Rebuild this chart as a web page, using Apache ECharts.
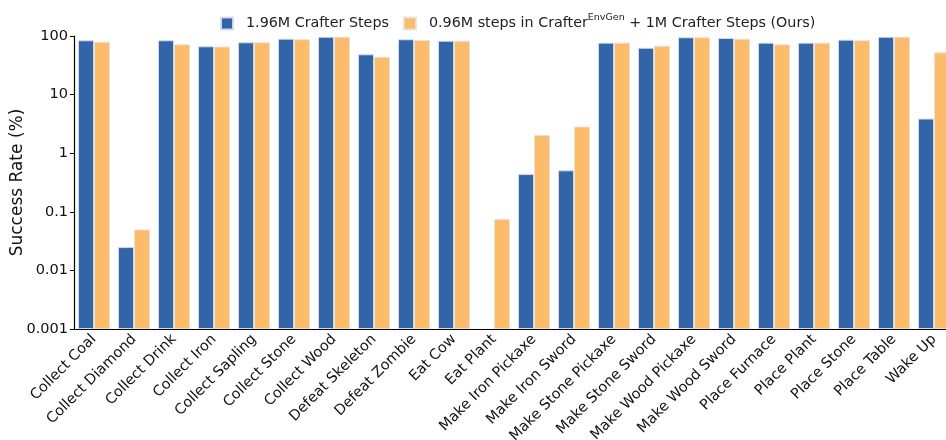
<!DOCTYPE html>
<html><head><meta charset="utf-8">
<script src="https://cdn.jsdelivr.net/npm/echarts@6/dist/echarts.min.js"></script>
<style>html,body{margin:0;padding:0;background:#fff}#c{width:946px;height:440px}</style>
</head><body><div id="c"></div>
<script>
const categories = ["Collect Coal","Collect Diamond","Collect Drink","Collect Iron","Collect Sapling","Collect Stone","Collect Wood","Defeat Skeleton","Defeat Zombie","Eat Cow","Eat Plant","Make Iron Pickaxe","Make Iron Sword","Make Stone Pickaxe","Make Stone Sword","Make Wood Pickaxe","Make Wood Sword","Place Furnace","Place Plant","Place Stone","Place Table","Wake Up"];
const baseline = [84.5,0.025,84.5,66.7,78,90,97,48.7,88,83,null,0.44,0.51,77,63,95,92.4,77,77,86.6,97,3.9];
const ours = [80,0.05,72,66,78,88,97,44.4,85.5,83,0.075,2.05,2.85,77,68.4,95,90,72,77,84.5,97,52.6];
const yTicks = [0.001,0.01,0.1,1,10,100];
const seriesNames = ["1.96M Crafter Steps","0.96M steps in Crafter^EnvGen + 1M Crafter Steps (Ours)"];

// log-scale mapping: decades above the axis floor (0.001)
const floorExp = Math.log10(yTicks[0]);
const toDec = v => (v === null || v <= 0) ? null : Math.log10(v) - floorExp;
const tickLabel = d => { const r = yTicks.find(t => Math.abs(Math.log10(t) - floorExp - d) < 1e-6); return r === undefined ? '' : String(r); };

const chart = echarts.init(document.getElementById('c'), null, {renderer:'canvas'});
const font = 'DejaVu Sans';
chart.setOption({
  animation:false,
  textStyle:{fontFamily:font},
  legend:{
    top:8, left:215, itemWidth:12, itemHeight:12, itemGap:14, icon:'rect',
    textStyle:{fontFamily:font, fontSize:14.3, color:'#222',
      rich:{a:{fontFamily:font,fontSize:14.3,color:'#222'}, p:{width:8}, sup:{fontFamily:font,fontSize:9.5,color:'#222',verticalAlign:'top', padding:[0,0,11,0]}}},
    formatter:function(n){
      if(n.indexOf('^')>=0){
        const p=n.split('^'); const rest=p[1].split(' ');
        return '{p|}{a|'+p[0]+'}{sup|'+rest[0]+'}{a| '+rest.slice(1).join(' ')+'}';
      }
      return '{p|}{a|'+n+'}';
    }
  },
  grid:{left:74, top:36, width:880, height:293, containLabel:false, outerBoundsMode:'none'},
  xAxis:{
    type:'category', data:categories,
    axisLine:{lineStyle:{color:'#000', width:1.2}},
    axisTick:{alignWithLabel:true, inside:true, length:3, lineStyle:{color:'#333'}},
    axisLabel:{rotate:45, fontSize:14.5, color:'#111', fontFamily:font, margin:8, interval:0}
  },
  yAxis:{
    type:'value', min:0, max:toDec(yTicks[yTicks.length-1]), interval:1,
    name:'Success Rate (%)', nameLocation:'middle', nameGap:48, nameRotate:90, nameMoveOverlap:false,
    nameTextStyle:{fontSize:17, color:'#111', fontFamily:font},
    axisLine:{show:true, lineStyle:{color:'#000', width:1.2}},
    axisTick:{show:true, length:4, lineStyle:{color:'#000'}},
    splitLine:{show:false},
    axisLabel:{fontSize:14.5, color:'#111', fontFamily:font, margin:6, formatter:tickLabel}
  },
  series:[
    {name:seriesNames[0], type:'bar', data:baseline.map(toDec), barWidth:'40%', barGap:'0%',
     itemStyle:{color:'#3264a8', borderColor:'rgba(215,222,235,0.9)', borderWidth:1}},
    {name:seriesNames[1], type:'bar', data:ours.map(toDec), barWidth:'40%',
     itemStyle:{color:'#fdbb6c', borderColor:'rgba(235,225,215,0.9)', borderWidth:1}}
  ]
});
</script></body></html>
